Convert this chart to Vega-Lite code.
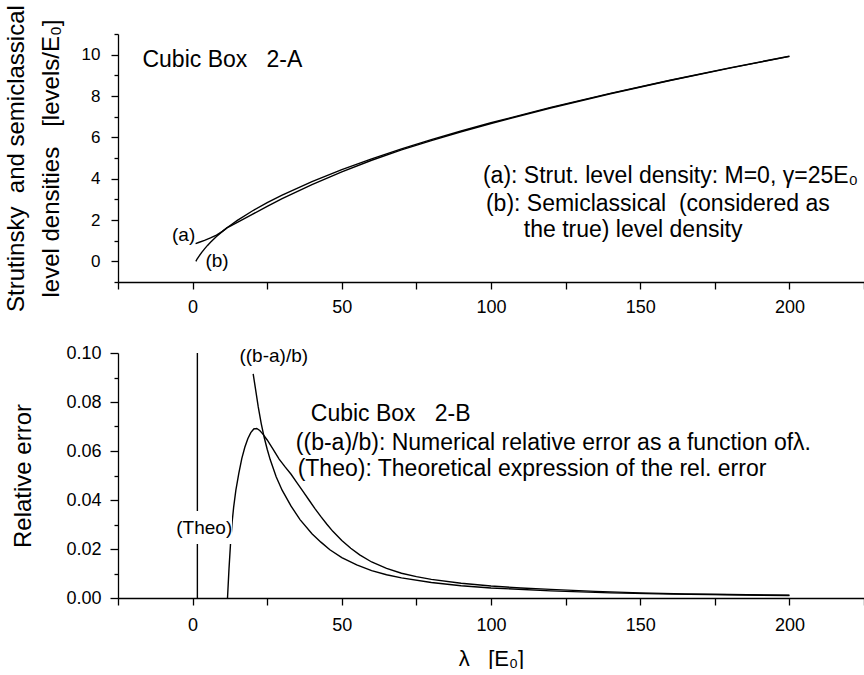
{
  "$schema": "https://vega.github.io/schema/vega-lite/v6.json",
  "padding": {"left": 4, "top": 4, "right": 0, "bottom": 0},
  "spacing": 71,
  "bounds": "flush",
  "config": {
    "font": "Liberation Sans",
    "view": {"stroke": null},
    "axis": {"domainColor": "black", "domainWidth": 1.3, "tickColor": "black", "tickWidth": 1.3, "labelColor": "black", "titleColor": "black", "grid": false, "labelFont": "Liberation Sans", "titleFont": "Liberation Sans", "titleFontWeight": "normal"},
    "text": {"font": "Liberation Sans", "color": "black"}
  },
  "datasets": {
    "top": [
      {"lam": 1.1, "val": 0.0, "s": "b"}, {"lam": 1.5, "val": 0.111, "s": "b"}, {"lam": 2, "val": 0.22, "s": "b"}, {"lam": 3, "val": 0.423, "s": "b"}, {"lam": 4, "val": 0.605, "s": "b"}, {"lam": 5, "val": 0.771, "s": "b"}, {"lam": 6, "val": 0.924, "s": "b"}, {"lam": 8, "val": 1.2, "s": "b"}, {"lam": 10, "val": 1.448, "s": "b"}, {"lam": 12, "val": 1.673, "s": "b"}, {"lam": 15, "val": 1.981, "s": "b"}, {"lam": 20, "val": 2.436, "s": "b"}, {"lam": 25, "val": 2.84, "s": "b"}, {"lam": 30, "val": 3.206, "s": "b"}, {"lam": 40, "val": 3.858, "s": "b"}, {"lam": 50, "val": 4.435, "s": "b"}, {"lam": 60, "val": 4.957, "s": "b"}, {"lam": 70, "val": 5.438, "s": "b"}, {"lam": 80, "val": 5.886, "s": "b"}, {"lam": 90, "val": 6.307, "s": "b"}, {"lam": 100, "val": 6.705, "s": "b"}, {"lam": 120, "val": 7.447, "s": "b"}, {"lam": 140, "val": 8.129, "s": "b"}, {"lam": 160, "val": 8.764, "s": "b"}, {"lam": 180, "val": 9.361, "s": "b"}, {"lam": 200, "val": 9.926, "s": "b"},
      {"lam": 1, "val": 0.86, "s": "a"}, {"lam": 2, "val": 0.91, "s": "a"}, {"lam": 4, "val": 1.01, "s": "a"}, {"lam": 6, "val": 1.13, "s": "a"}, {"lam": 8, "val": 1.27, "s": "a"}, {"lam": 10, "val": 1.45, "s": "a"}, {"lam": 11.7, "val": 1.64, "s": "a"}, {"lam": 12, "val": 1.66, "s": "a"}, {"lam": 15, "val": 1.884, "s": "a"}, {"lam": 20, "val": 2.27, "s": "a"}, {"lam": 25, "val": 2.66, "s": "a"}, {"lam": 30, "val": 3.03, "s": "a"}, {"lam": 40, "val": 3.71, "s": "a"}, {"lam": 50, "val": 4.33, "s": "a"}, {"lam": 60, "val": 4.89, "s": "a"}, {"lam": 70, "val": 5.39, "s": "a"}, {"lam": 80, "val": 5.84, "s": "a"}, {"lam": 90, "val": 6.27, "s": "a"}, {"lam": 100, "val": 6.67, "s": "a"}, {"lam": 120, "val": 7.42, "s": "a"}, {"lam": 140, "val": 8.11, "s": "a"}, {"lam": 160, "val": 8.75, "s": "a"}, {"lam": 180, "val": 9.35, "s": "a"}, {"lam": 200, "val": 9.915, "s": "a"}
    ],
    "bottom": [
      {"lam": 1.6, "val": 0.0, "s": "pole"}, {"lam": 1.6, "val": 0.1, "s": "pole"},
      {"lam": 11.7, "val": 0.0, "s": "num"}, {"lam": 12.2, "val": 0.012, "s": "num"}, {"lam": 12.75, "val": 0.023, "s": "num"}, {"lam": 13.25, "val": 0.031, "s": "num"}, {"lam": 13.75, "val": 0.037, "s": "num"}, {"lam": 14.5, "val": 0.044, "s": "num"}, {"lam": 15.5, "val": 0.051, "s": "num"}, {"lam": 16.5, "val": 0.057, "s": "num"}, {"lam": 17.5, "val": 0.0615, "s": "num"}, {"lam": 18.5, "val": 0.065, "s": "num"}, {"lam": 19.5, "val": 0.0675, "s": "num"}, {"lam": 20.5, "val": 0.069, "s": "num"}, {"lam": 21.5, "val": 0.0692, "s": "num"}, {"lam": 22.5, "val": 0.0684, "s": "num"}, {"lam": 23.5, "val": 0.067, "s": "num"}, {"lam": 25, "val": 0.0645, "s": "num"}, {"lam": 27, "val": 0.0607, "s": "num"}, {"lam": 29, "val": 0.0567, "s": "num"}, {"lam": 31, "val": 0.0535, "s": "num"}, {"lam": 33, "val": 0.0505, "s": "num"}, {"lam": 35, "val": 0.047, "s": "num"}, {"lam": 37, "val": 0.0435, "s": "num"}, {"lam": 39, "val": 0.04, "s": "num"}, {"lam": 41, "val": 0.0365, "s": "num"}, {"lam": 43, "val": 0.0332, "s": "num"}, {"lam": 45, "val": 0.0301, "s": "num"}, {"lam": 47, "val": 0.0272, "s": "num"}, {"lam": 50, "val": 0.0235, "s": "num"}, {"lam": 53, "val": 0.0203, "s": "num"}, {"lam": 56, "val": 0.0176, "s": "num"}, {"lam": 60, "val": 0.0147, "s": "num"}, {"lam": 65, "val": 0.0121, "s": "num"}, {"lam": 70, "val": 0.0101, "s": "num"}, {"lam": 75, "val": 0.0087, "s": "num"}, {"lam": 80, "val": 0.0076, "s": "num"}, {"lam": 90, "val": 0.006, "s": "num"}, {"lam": 100, "val": 0.0049, "s": "num"}, {"lam": 110, "val": 0.0041, "s": "num"}, {"lam": 120, "val": 0.0035, "s": "num"}, {"lam": 135, "val": 0.0027, "s": "num"}, {"lam": 150, "val": 0.0021, "s": "num"}, {"lam": 165, "val": 0.0017, "s": "num"}, {"lam": 180, "val": 0.0014, "s": "num"}, {"lam": 200, "val": 0.0011, "s": "num"},
      {"lam": 20.3, "val": 0.0915, "s": "theo"}, {"lam": 21, "val": 0.086, "s": "theo"}, {"lam": 22, "val": 0.078, "s": "theo"}, {"lam": 23, "val": 0.0712, "s": "theo"}, {"lam": 24, "val": 0.0655, "s": "theo"}, {"lam": 25, "val": 0.0607, "s": "theo"}, {"lam": 26, "val": 0.0565, "s": "theo"}, {"lam": 28, "val": 0.0495, "s": "theo"}, {"lam": 30, "val": 0.044, "s": "theo"}, {"lam": 33, "val": 0.0375, "s": "theo"}, {"lam": 36, "val": 0.032, "s": "theo"}, {"lam": 40, "val": 0.0262, "s": "theo"}, {"lam": 43, "val": 0.0228, "s": "theo"}, {"lam": 46, "val": 0.0197, "s": "theo"}, {"lam": 50, "val": 0.0165, "s": "theo"}, {"lam": 55, "val": 0.0135, "s": "theo"}, {"lam": 60, "val": 0.0112, "s": "theo"}, {"lam": 65, "val": 0.0095, "s": "theo"}, {"lam": 70, "val": 0.0082, "s": "theo"}, {"lam": 80, "val": 0.0063, "s": "theo"}, {"lam": 90, "val": 0.005, "s": "theo"}, {"lam": 100, "val": 0.0041, "s": "theo"}, {"lam": 120, "val": 0.0029, "s": "theo"}, {"lam": 140, "val": 0.0021, "s": "theo"}, {"lam": 160, "val": 0.0016, "s": "theo"}, {"lam": 180, "val": 0.0013, "s": "theo"}, {"lam": 200, "val": 0.001, "s": "theo"}
    ]
  },
  "vconcat": [
    {
      "width": 746,
      "height": 248,
      "data": {"name": "top"},
      "resolve": {"axis": {"y": "independent"}},
      "layer": [
        {
          "transform": [{"filter": "datum.s === 'a'"}],
          "mark": {"type": "line", "color": "black", "strokeWidth": 1.4, "clip": true},
          "encoding": {
            "x": {"field": "lam", "type": "quantitative", "scale": {"domain": [-25, 225], "nice": false, "zero": false},
              "axis": {"values": [-25, 0, 25, 50, 75, 100, 125, 150, 175, 200, 225], "labelExpr": "datum.value % 50 === 0 && datum.value >= 0 && datum.value <= 200 ? datum.label : ''", "tickSize": 7, "labelPadding": 9, "labelFontSize": 18, "title": null, "labelFlush": false, "labelOverlap": false}},
            "y": {"field": "val", "type": "quantitative", "scale": {"domain": [-1, 11], "nice": false, "zero": false},
              "axis": {"orient": "left", "values": [0, 2, 4, 6, 8, 10], "tickSize": 7, "labelPadding": 11, "labelFontSize": 17, "title": ["Strutinsky\u00a0 and semiclassical", "level densities\u00a0\u00a0 [levels/E₀]"], "titleFontSize": 24, "titleLineHeight": 35, "titlePadding": 18}}
          }
        },
        {
          "transform": [{"filter": "datum.s === 'b'"}],
          "mark": {"type": "line", "color": "black", "strokeWidth": 1.4, "clip": true},
          "encoding": {
            "x": {"field": "lam", "type": "quantitative", "scale": {"domain": [-25, 225], "nice": false, "zero": false},
              "axis": {"values": [-25, 0, 25, 50, 75, 100, 125, 150, 175, 200, 225], "labelExpr": "datum.value % 50 === 0 && datum.value >= 0 && datum.value <= 200 ? datum.label : ''", "tickSize": 7, "labelPadding": 9, "labelFontSize": 18, "title": null, "labelFlush": false, "labelOverlap": false}},
            "y": {"field": "val", "type": "quantitative", "scale": {"domain": [-1, 11], "nice": false, "zero": false},
              "axis": {"orient": "left", "values": [-1, 1, 3, 5, 7, 9, 11], "labels": false, "domain": false, "title": null, "tickSize": 4}}
          }
        },
        {
          "data": {"values": [{"tx": -16.8, "ty": 9.75, "t": "Cubic Box\u00a0\u00a0 2-A"}, {"tx": 97.3, "ty": 4.12, "t": "(a): Strut. level density: M=0, γ=25E₀"}, {"tx": 98.3, "ty": 2.79, "t": "(b): Semiclassical\u00a0 (considered as"}, {"tx": 111, "ty": 1.52, "t": "the true) level density"}]},
          "mark": {"type": "text", "align": "left", "baseline": "middle", "fontSize": 23},
          "encoding": {
            "x": {"field": "tx", "type": "quantitative"},
            "y": {"field": "ty", "type": "quantitative", "axis": null},
            "text": {"field": "t"}
          }
        },
        {
          "data": {"values": [{"tx": -3, "ty": 1.27, "t": "(a)"}, {"tx": 8.2, "ty": 0.0, "t": "(b)"}]},
          "mark": {"type": "text", "align": "center", "baseline": "middle", "fontSize": 19},
          "encoding": {
            "x": {"field": "tx", "type": "quantitative"},
            "y": {"field": "ty", "type": "quantitative", "axis": null},
            "text": {"field": "t"}
          }
        }
      ]
    },
    {
      "width": 746,
      "height": 245,
      "data": {"name": "bottom"},
      "resolve": {"axis": {"y": "independent"}},
      "layer": [
        {
          "mark": {"type": "line", "color": "black", "strokeWidth": 1.4, "clip": true},
          "encoding": {
            "x": {"field": "lam", "type": "quantitative", "scale": {"domain": [-25, 225], "nice": false, "zero": false},
              "axis": {"values": [-25, 0, 25, 50, 75, 100, 125, 150, 175, 200, 225], "labelExpr": "datum.value % 50 === 0 && datum.value >= 0 && datum.value <= 200 ? datum.label : ''", "tickSize": 7, "labelPadding": 11, "labelFontSize": 18, "title": "λ\u00a0\u00a0 [E₀]", "titleFontSize": 22, "titlePadding": 14, "labelFlush": false, "labelOverlap": false}},
            "y": {"field": "val", "type": "quantitative", "scale": {"domain": [0, 0.1], "nice": false, "zero": false},
              "axis": {"orient": "left", "values": [0, 0.02, 0.04, 0.06, 0.08, 0.1], "format": ".2f", "tickSize": 8, "labelPadding": 9, "labelFontSize": 18, "title": "Relative error", "titleFontSize": 24, "titlePadding": 30}},
            "detail": {"field": "s"}
          }
        },
        {
          "data": {"values": [{"x1": -6.4, "x2": 13.2, "y1": 0.022, "y2": 0.0355}]},
          "mark": {"type": "rect", "color": "white"},
          "encoding": {
            "x": {"field": "x1", "type": "quantitative"},
            "x2": {"field": "x2"},
            "y": {"field": "y1", "type": "quantitative", "axis": {"orient": "left", "values": [0.01, 0.03, 0.05, 0.07, 0.09], "labels": false, "domain": false, "title": null, "tickSize": 4}},
            "y2": {"field": "y2"}
          }
        },
        {
          "data": {"values": [{"tx": 39.6, "ty": 0.0751, "t": "Cubic Box\u00a0\u00a0 2-B"}, {"tx": 34.6, "ty": 0.0633, "t": "((b-a)/b): Numerical relative error as a function ofλ."}, {"tx": 35.2, "ty": 0.0527, "t": "(Theo): Theoretical expression of the rel. error"}]},
          "mark": {"type": "text", "align": "left", "baseline": "middle", "fontSize": 23},
          "encoding": {
            "x": {"field": "tx", "type": "quantitative"},
            "y": {"field": "ty", "type": "quantitative", "axis": null},
            "text": {"field": "t"}
          }
        },
        {
          "data": {"values": [{"tx": 27.2, "ty": 0.0988, "t": "((b-a)/b)"}, {"tx": 3.9, "ty": 0.0286, "t": "(Theo)"}]},
          "mark": {"type": "text", "align": "center", "baseline": "middle", "fontSize": 19},
          "encoding": {
            "x": {"field": "tx", "type": "quantitative"},
            "y": {"field": "ty", "type": "quantitative", "axis": null},
            "text": {"field": "t"}
          }
        }
      ]
    }
  ]
}
